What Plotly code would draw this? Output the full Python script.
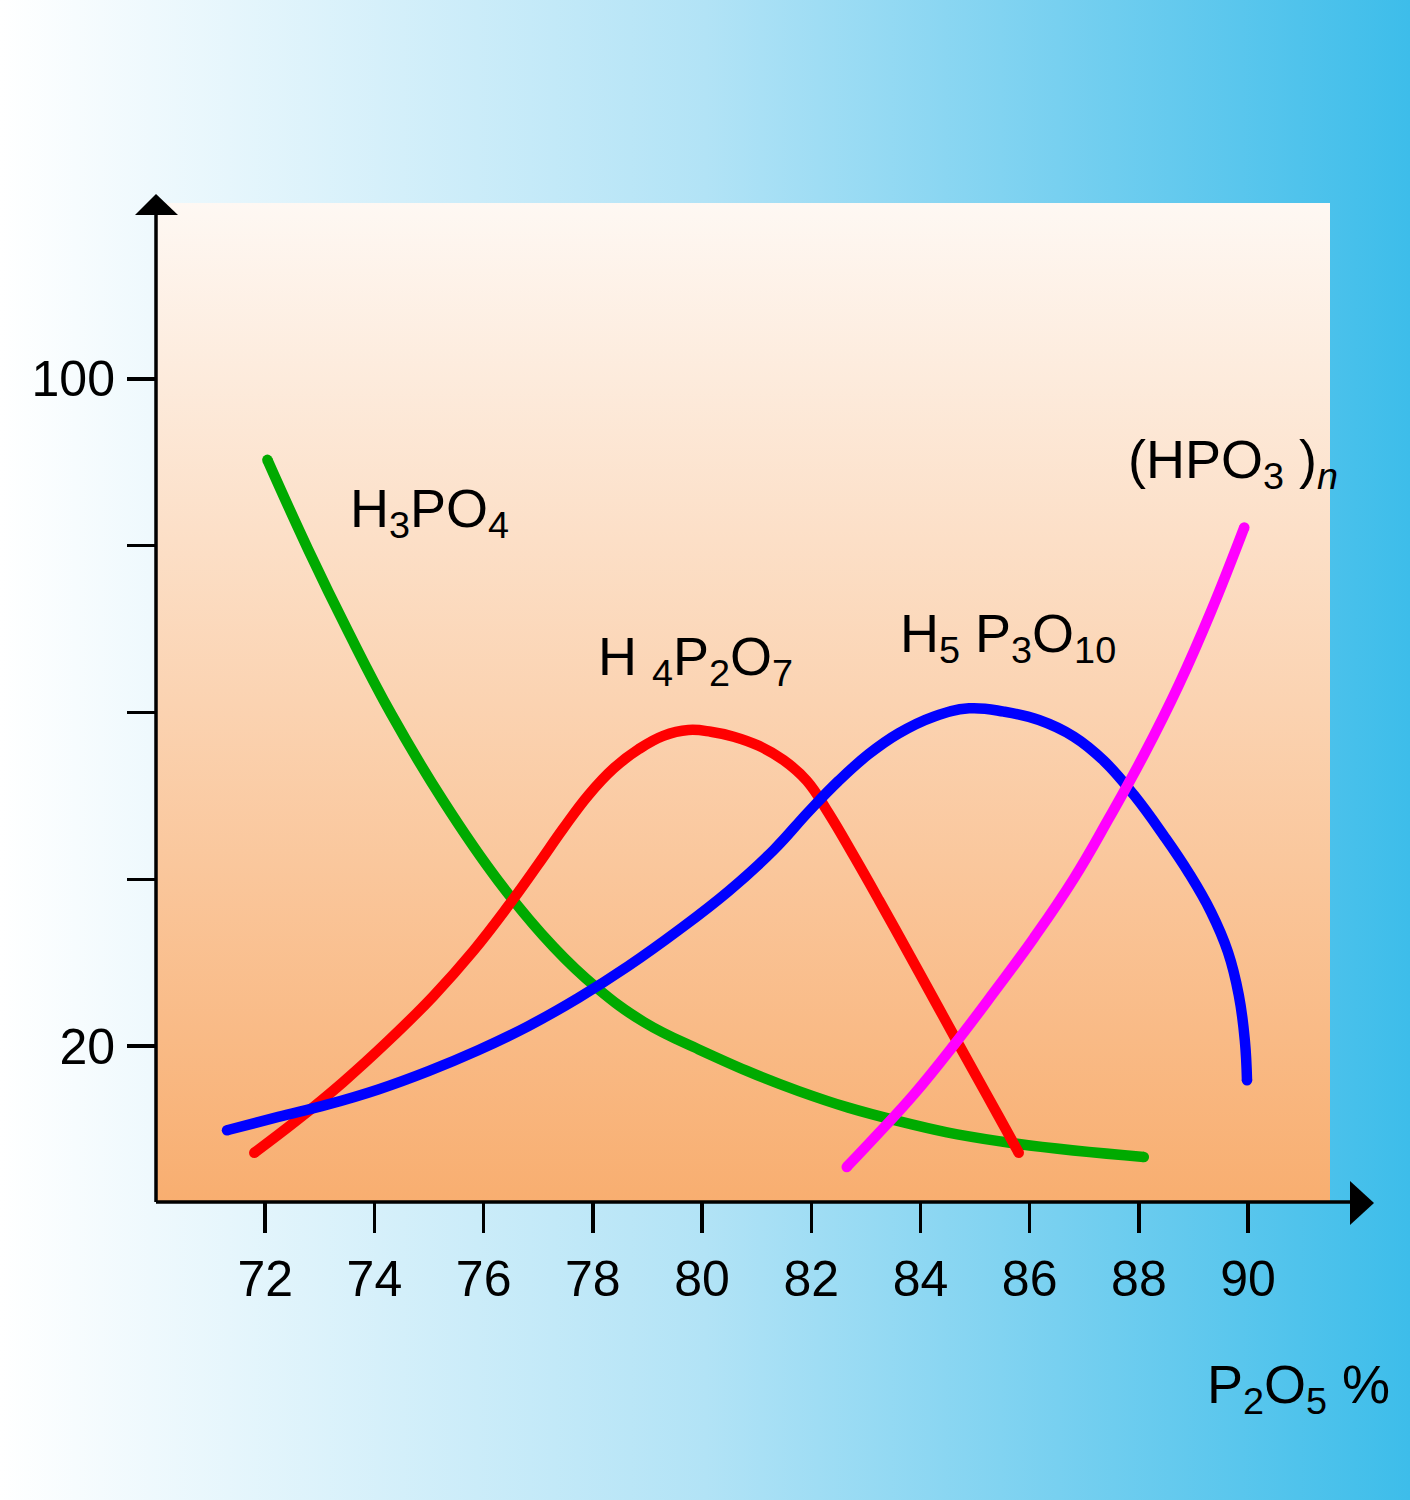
import base64
import plotly.graph_objects as go

# ---------------- data ----------------
h3po4_x = [72.04, 72.79, 73.52, 74.31, 75.26, 76.27, 77.28, 78.07, 78.93, 79.94, 81.77, 83.60, 85.43, 88.09]
h3po4_y = [90.3, 79.5, 69.7, 59.8, 49.4, 39.8, 31.9, 27.0, 22.9, 19.6, 14.6, 11.0, 8.6, 6.7]

h4p2o7_x = [71.80, 72.60, 73.43, 74.25, 75.08, 75.81, 76.45, 77.00, 77.46, 77.92, 78.38, 78.84, 79.29,
            79.75, 80.16, 80.58, 81.04, 81.49, 81.92, 82.32, 82.78, 83.24, 83.97, 84.70, 85.43, 85.80]
h4p2o7_y = [7.2, 11.2, 15.7, 20.6, 26.0, 31.4, 36.8, 41.8, 46.1, 50.1, 53.3, 55.6, 57.2,
            57.9, 57.7, 57.1, 56.0, 54.3, 51.8, 47.9, 42.8, 37.5, 28.9, 20.2, 11.6, 7.2]

h5p3o10_x = [71.30, 72.24, 73.15, 74.07, 74.99, 75.90, 76.82, 77.74, 78.65, 79.57, 80.49, 81.31, 81.95,
             82.50, 83.05, 83.60, 84.24, 84.89, 85.53, 86.17, 86.81, 87.36, 87.91, 88.46, 88.92, 89.32,
             89.63, 89.83, 89.94, 89.98]
h5p3o10_y = [9.9, 11.5, 13.0, 14.8, 17.0, 19.5, 22.4, 25.8, 29.6, 33.9, 38.6, 43.5, 48.1,
             51.8, 55.0, 57.5, 59.5, 60.5, 60.1, 59.1, 57.1, 54.2, 50.1, 45.2, 40.7, 36.1,
             31.3, 26.1, 20.7, 15.9]

hpo3n_x = [82.65, 83.24, 83.88, 84.61, 85.34, 86.08, 86.81, 87.45, 88.09, 88.73, 89.32, 89.93]
hpo3n_y = [5.5, 9.6, 14.2, 20.1, 26.4, 33.0, 40.1, 47.3, 54.9, 63.3, 72.1, 82.2]

x_ticks = [72, 74, 76, 78, 80, 82, 84, 86, 88, 90]
y_ticks = [20, 40, 60, 80, 100]
y_ticklabels = ["20", "", "", "", "100"]

series_names = ["H<sub>3</sub>PO<sub>4</sub>", "H <sub>4</sub>P<sub>2</sub>O<sub>7</sub>",
                "H<sub>5</sub> P<sub>3</sub>O<sub>10</sub>", "(HPO<sub>3</sub> )<sub><i>n</i></sub>"]
x_title = "P<sub>2</sub>O<sub>5</sub> %"

FONT = "Liberation Sans, Arial, Helvetica, sans-serif"

# ---------------- figure ----------------
W, H = 1410, 1500
L, R, T, B = 156, 80, 203, 298
pw, ph = W - L - R, H - T - B


def svg_uri(svg):
    return "data:image/svg+xml;base64," + base64.b64encode(svg.encode()).decode()


page_svg = ('<svg xmlns="http://www.w3.org/2000/svg" width="1410" height="1500" viewBox="0 0 1410 1500" '
            'preserveAspectRatio="none"><defs><linearGradient id="g" x1="0" y1="0" x2="1" y2="0">'
            '<stop offset="0" stop-color="#ffffff"/><stop offset="0.5" stop-color="#b2e3f6"/>'
            '<stop offset="1" stop-color="#3dbdea"/></linearGradient></defs>'
            '<rect width="1410" height="1500" fill="url(#g)"/></svg>')
plot_svg = ('<svg xmlns="http://www.w3.org/2000/svg" width="100" height="100" viewBox="0 0 100 100" '
            'preserveAspectRatio="none"><defs><linearGradient id="p" x1="0" y1="0" x2="0" y2="1">'
            '<stop offset="0" stop-color="#fef8f3"/><stop offset="1" stop-color="#f8ae70"/>'
            '</linearGradient></defs><rect width="100" height="100" fill="url(#p)"/></svg>')

fig = go.Figure()
series = [
    (h3po4_x, h3po4_y, "#00aa00"),
    (h4p2o7_x, h4p2o7_y, "#ff0000"),
    (h5p3o10_x, h5p3o10_y, "#0000ff"),
    (hpo3n_x, hpo3n_y, "#ff00ff"),
]
LW = 10.5
for (xs, ys, c), name in zip(series, series_names):
    fig.add_trace(go.Scatter(x=xs, y=ys, mode="lines", name=name,
                             line=dict(color=c, width=LW, shape="spline", smoothing=1.2),
                             hoverinfo="skip", showlegend=False))
    # round line caps at both ends of each curve
    fig.add_trace(go.Scatter(x=[xs[0], xs[-1]], y=[ys[0], ys[-1]], mode="markers",
                             marker=dict(color=c, size=LW, line=dict(width=0)),
                             hoverinfo="skip", showlegend=False))

label_pos = [(73.52, 84.0), (78.05, 66.3), (83.58, 69.0), (87.76, 89.9)]
for (lx, ly), name in zip(label_pos, series_names):
    fig.add_annotation(x=lx, y=ly, text=name, showarrow=False, xanchor="left", yanchor="middle",
                       font=dict(family=FONT, size=54, color="black"))

fig.add_annotation(xref="paper", yref="paper", x=(1205 - L) / pw, y=(1202 - 1388) / ph, text=x_title,
                   showarrow=False, xanchor="left", yanchor="middle",
                   font=dict(family=FONT, size=54, color="black"))


# axis lines and arrow heads (paper coordinates)
def px(xp):
    return (xp - L) / pw


def py(yp):
    return (T + ph - yp) / ph


fig.add_shape(type="line", xref="paper", yref="paper", x0=0, y0=0, x1=px(1355), y1=0,
              line=dict(color="black", width=3.5))
fig.add_shape(type="line", xref="paper", yref="paper", x0=0, y0=0, x1=0, y1=py(205),
              line=dict(color="black", width=3.5))
fig.add_shape(type="path", xref="paper", yref="paper",
              path=f"M {px(156)},{py(194)} L {px(135)},{py(215)} L {px(178)},{py(215)} Z",
              fillcolor="black", line=dict(color="black", width=0))
fig.add_shape(type="path", xref="paper", yref="paper",
              path=f"M {px(1374)},{py(1203)} L {px(1350)},{py(1181)} L {px(1350)},{py(1225)} Z",
              fillcolor="black", line=dict(color="black", width=0))

fig.update_layout(
    width=W, height=H, autosize=False,
    margin=dict(l=L, r=R, t=T, b=B, pad=0),
    paper_bgcolor="rgba(0,0,0,0)", plot_bgcolor="rgba(0,0,0,0)",
    images=[
        dict(source=svg_uri(page_svg), xref="paper", yref="paper", x=-L / pw, y=1 + T / ph,
             sizex=W / pw, sizey=H / ph, xanchor="left", yanchor="top", sizing="stretch", layer="below"),
        dict(source=svg_uri(plot_svg), xref="paper", yref="paper", x=0, y=1,
             sizex=1, sizey=1, xanchor="left", yanchor="top", sizing="stretch", layer="below"),
    ],
    xaxis=dict(range=[70, 91.5], tickvals=x_ticks, ticktext=[str(v) for v in x_ticks],
               showgrid=False, zeroline=False, showline=False, ticks="outside", ticklen=30,
               tickwidth=3.5, tickcolor="black", ticklabelstandoff=3,
               tickfont=dict(family=FONT, size=50, color="black"), fixedrange=True),
    yaxis=dict(range=[1.3, 121.1], tickvals=y_ticks, ticktext=y_ticklabels,
               showgrid=False, zeroline=False, showline=False, ticks="outside", ticklen=28,
               tickwidth=3.5, tickcolor="black", ticklabelstandoff=2,
               tickfont=dict(family=FONT, size=50, color="black"), fixedrange=True),
)

fig.write_html("out.html", config={"displayModeBar": False, "staticPlot": True},
               post_script="document.body.style.margin='0';document.body.style.overflow='hidden';")
